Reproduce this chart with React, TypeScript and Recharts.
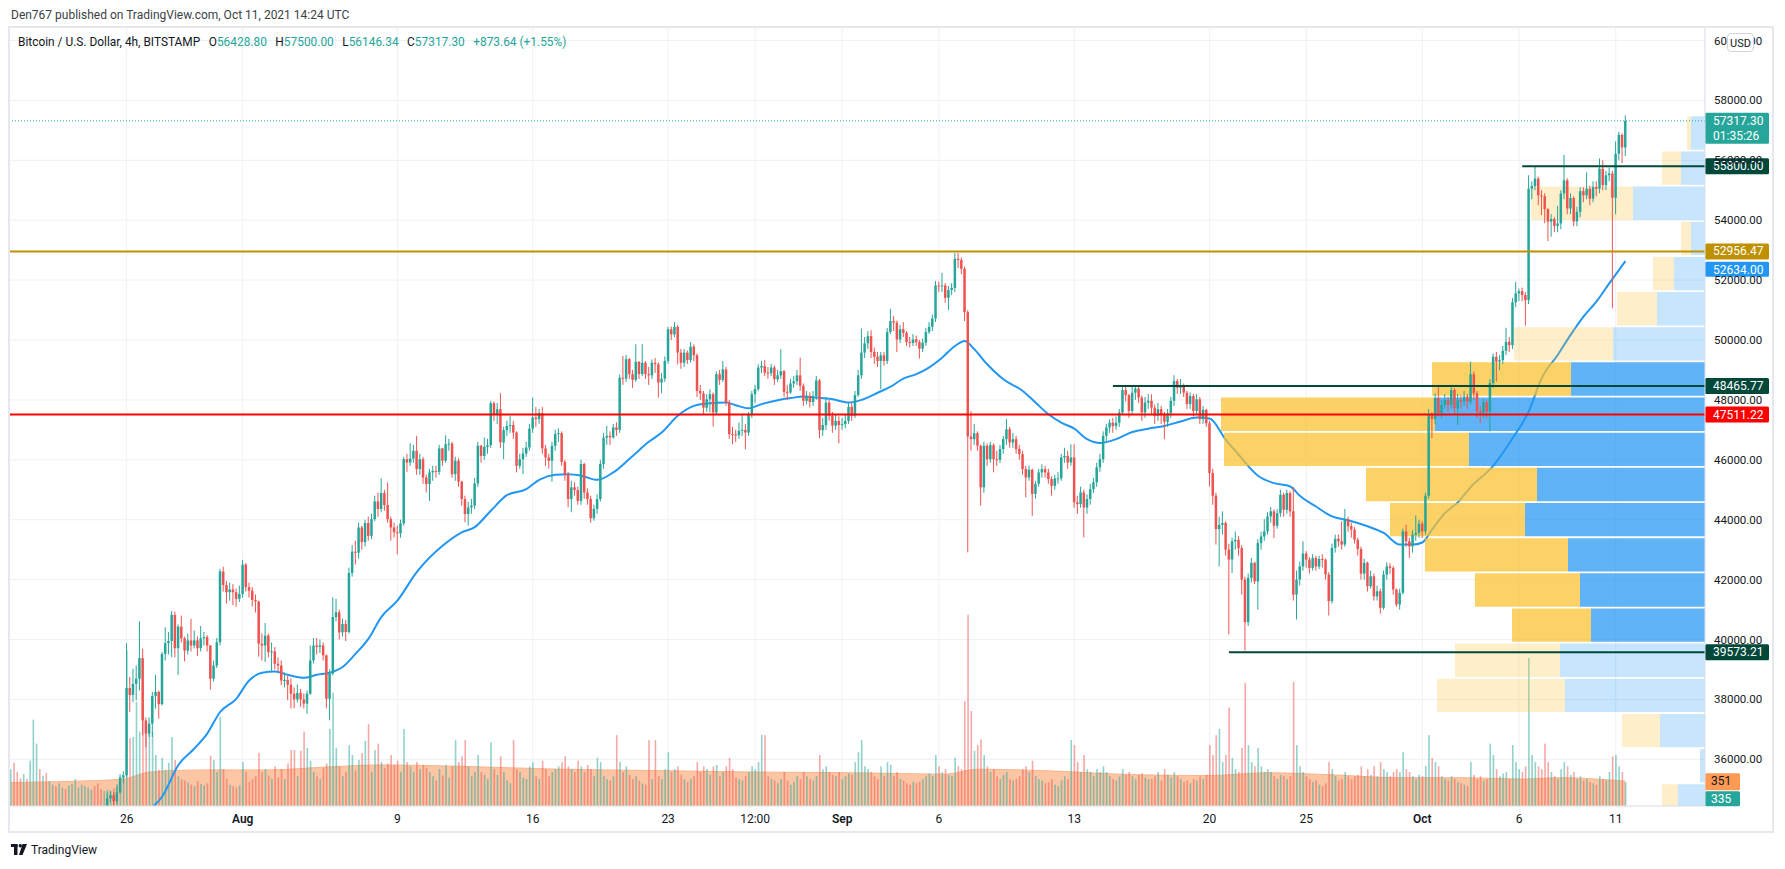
import React from 'react';
import {
  ComposedChart, Bar, Line, Area, XAxis, YAxis, CartesianGrid, ReferenceLine, ReferenceArea,
} from 'recharts';

// ---- 4h candles, Jul 20 2021 00:00 UTC .. Oct 11 2021 12:00 UTC (one row per line = one day) ----
const firstOpen = 30400;
const closes = [
  30500, 30200, 29800, 29600, 29900, 29800,
  30600, 31800, 32200, 32000, 32300, 32100,
  32300, 32500, 32200, 32400, 32600, 32500,
  32700, 32900, 33300, 33400, 33600, 33700,
  33900, 34200, 34000, 33900, 33800, 34300,
  34700, 34800, 34600, 34900, 35400, 35470,
  38380, 38150, 38520, 38690, 39380, 37300,
  36860, 37190, 38110, 38250, 37840, 39520,
  39880, 39950, 40820, 39710, 40430, 40040,
  39630, 39970, 39800, 39970, 39710, 40040,
  40080, 39800, 38690, 39130, 39910, 42270,
  41820, 41580, 41670, 41580, 41360, 41520,
  42500, 41750, 41630, 41320, 41270, 39860,
  39800, 40130, 39580, 39600, 39190, 39130,
  38630, 38650, 38490, 38190, 38000, 38220,
  38000, 37860, 38190, 39300, 39800, 39750,
  39800, 39470, 38020, 38860, 40750, 40910,
  40240, 40520, 40250, 42220, 42930, 42900,
  43740, 43250, 43890, 43460, 44020, 44610,
  44360, 44890, 44490, 44020, 43740, 43580,
  43545, 43880, 46020, 45910, 46040, 46300,
  45690, 46020, 45410, 45190, 45580, 45630,
  45600, 46380, 45970, 46520, 46540, 45520,
  45970, 45270, 44690, 44190, 44410, 44470,
  45210, 46470, 46130, 46430, 46490, 47890,
  47520, 47690, 46580, 46990, 47130, 47160,
  46910, 45800, 46020, 46210, 46410, 47040,
  47410, 47360, 47560, 46380, 46080, 45970,
  46470, 46860, 46890, 45930, 45520, 44690,
  45080, 44990, 44630, 45860, 44910, 44690,
  44050, 44360, 44690, 45860, 46740, 46800,
  46750, 47080, 47000, 48740, 48710, 49360,
  48860, 48670, 49270, 48860, 49240, 48860,
  48820, 49240, 49190, 48580, 48710, 49300,
  50360, 50190, 50440, 49580, 49240, 49580,
  49330, 49780, 49490, 48300, 48220, 47740,
  48020, 48190, 47580, 48860, 48670, 49020,
  47910, 46860, 46850, 46820, 46970, 47000,
  46910, 47520, 48190, 48360, 49080, 49130,
  48910, 48890, 49080, 48690, 48820, 48960,
  48270, 48250, 48550, 48620, 48820, 48470,
  47970, 48130, 47930, 48130, 48650, 46990,
  47160, 47910, 47470, 47140, 47300, 47160,
  47190, 47300, 47770, 47470, 48160, 48820,
  49580, 49890, 50130, 49600, 49440, 49300,
  49490, 49300, 50270, 50630, 50580, 50020,
  50360, 50240, 49930, 49900, 50020, 49930,
  49710, 49910, 50270, 50440, 50720, 51820,
  51800, 51820, 51410, 51670, 51740, 52710,
  52670, 52380, 50930, 46780, 46690, 46890,
  46470, 45080, 46470, 46020, 46490, 46020,
  46000, 46360, 46690, 47020, 46580, 46690,
  46360, 46190, 45690, 45410, 45670, 44860,
  45200, 45580, 45690, 45580, 45360, 45130,
  45380, 45380, 46080, 46130, 45910, 46080,
  44580, 44520, 44910, 44410, 44690, 45020,
  45250, 45750, 46020, 46800, 47080, 47240,
  47130, 47240, 47580, 48330, 48160, 47630,
  48240, 48380, 48080, 47580, 47910, 47970,
  47740, 47470, 47690, 47520, 47270, 47560,
  47970, 48630, 48410, 48470, 48240, 47860,
  48130, 47630, 48020, 47360, 47670, 47220,
  45560, 44800, 43690, 43830, 43890, 43000,
  42670, 43280, 43330, 43050, 42000, 40580,
  42060, 42560, 41940, 43220, 43440, 43610,
  44110, 44280, 43800, 44220, 44830, 44330,
  44890, 44280, 41500, 42000, 42440, 42870,
  42670, 42390, 42720, 42440, 42690, 42670,
  42170, 41280, 43060, 43360, 43280, 43170,
  44000, 43780, 43670, 43330, 43020, 42200,
  42560, 41780, 42110, 41440, 41610, 41060,
  42170, 42440, 42390, 41670, 41170, 41560,
  43610, 43280, 43110, 43500, 43560, 43870,
  43610, 44800, 47500, 47360, 48060, 47560,
  47830, 48000, 47830, 48330, 47720, 48000,
  47940, 48110, 47940, 48860, 48220, 47610,
  47560, 47920, 47610, 48560, 49440, 49280,
  49330, 49640, 49940, 49830, 51260, 51560,
  51630, 51500, 51330, 55050, 55140, 55390,
  54830, 54800, 54370, 53950, 54040, 53810,
  53890, 54890, 55330, 54390, 54740, 53960,
  54280, 54970, 54830, 55050, 54720, 55110,
  55050, 55720, 55170, 55500, 55560, 54750,
  56220, 56850, 56428.8, 57317.3,
];
const highs = [
  31000, 30700, 30300, 29900, 30100, 30100,
  30700, 32000, 32600, 32400, 32500, 32400,
  32500, 32700, 32600, 32500, 32800, 32700,
  32900, 33100, 33500, 33600, 33800, 33900,
  34100, 34300, 34300, 34200, 34100, 34400,
  34900, 34950, 34900, 35100, 35500, 35600,
  39880, 38750, 39020, 39130, 40610, 39690,
  37400, 37400, 38250, 38820, 38300, 39580,
  40410, 40250, 40950, 40930, 40500, 40800,
  40100, 40200, 40690, 40300, 40100, 40450,
  40250, 40150, 39810, 39300, 40050, 42360,
  42430, 41950, 41900, 41850, 41700, 41800,
  42660, 42550, 41900, 41750, 41500, 41300,
  40200, 40550, 40200, 39900, 39750, 39400,
  39300, 38900, 38800, 38700, 38400, 38500,
  38350, 38200, 38300, 39800, 40050, 40050,
  40000, 39900, 39500, 39000, 41410, 41360,
  41000, 40700, 40650, 42400, 43150, 43300,
  43900, 43800, 44000, 44100, 44200, 44800,
  44900, 45380, 45000, 45245, 44100, 43900,
  43800, 44000, 46100, 46200, 46556, 46500,
  46800, 46200, 46100, 45500, 45700, 45800,
  45800, 46500, 46400, 46820, 46700, 46600,
  46100, 46050, 45300, 44800, 44600, 44700,
  45400, 46600, 46500, 46745, 46700, 47967,
  47950, 47900, 48222, 47100, 47300, 47470,
  47300, 46950, 46200, 46400, 46600, 47200,
  48080, 47760, 47700, 47760, 46500, 46200,
  46600, 47000, 47050, 46950, 46000, 45600,
  45300, 45250, 45100, 46000, 45900, 45050,
  44800, 44500, 44850, 46000, 46900, 47130,
  46950, 47200, 47250, 48850, 49470, 49500,
  49400, 49000, 49860, 49300, 49860, 49300,
  49100, 49350, 49400, 49250, 48900, 49450,
  50440, 50450, 50600, 50500, 49700, 49700,
  49650, 49930, 49850, 49550, 48500, 48300,
  48200, 48350, 48250, 48950, 49000, 49300,
  49100, 48000, 47100, 47000, 47240, 47540,
  47200, 47600, 48300, 48500, 49190, 49300,
  49330, 49100, 49200, 49150, 49000, 49690,
  49000, 48500, 48700, 48800, 49000, 49410,
  48550, 48300, 48250, 48300, 48800, 48700,
  47400, 48100, 48000, 47600, 47500, 47450,
  47400, 47500, 47900, 47900, 48300, 49000,
  50380, 50100, 50300, 50330, 49750, 49600,
  49600, 49600, 50400, 51040, 50800, 50650,
  50500, 50600, 50300, 50100, 50200, 50150,
  50000, 50050, 50400, 50600, 50850, 51970,
  51950, 52240, 51900, 51800, 51900, 52910,
  52910, 52750, 52450, 51000, 47630, 47200,
  46950, 46500, 46600, 46550, 46600, 46550,
  46300, 46500, 46800, 47360, 47100, 46900,
  46800, 46500, 46300, 45800, 45800, 45700,
  45300, 45700, 45850, 45800, 45700, 45450,
  45500, 45600, 46200, 46400, 46300, 46520,
  46520, 44800, 45100, 45000, 44850, 45200,
  45400, 45900, 46200, 46950, 47200, 47350,
  47400, 47450, 47700, 48450, 48450, 48200,
  48450, 48500, 48450, 48150, 48100, 48200,
  48190, 47850, 47900, 47800, 47600, 47700,
  48100, 48820, 48700, 48700, 48550, 48300,
  48250, 48200, 48200, 48100, 47800, 47700,
  47300, 45700, 44900, 44100, 44280, 43950,
  43200, 43400, 43610, 43450, 43150, 42100,
  42200, 42720, 42600, 43350, 43600, 44020,
  44250, 44420, 44350, 44350, 45000, 44900,
  45000, 44950, 45090, 42300, 42600, 43280,
  42950, 42750, 42850, 42800, 42800, 42850,
  42700, 42250, 43200, 43500, 43500, 43940,
  44360, 44100, 43900, 43750, 43400, 43100,
  42700, 42600, 42300, 42200, 41800, 41700,
  42300, 42580, 42550, 42450, 41700, 41700,
  43700, 43830, 43400, 43650, 44140, 44000,
  43950, 44900, 47700, 47600, 48220, 48500,
  48000, 48200, 48100, 48500, 48400, 48200,
  48150, 48300, 48200, 49280, 48950, 48300,
  47800, 48050, 48000, 48700, 49550, 49600,
  49500, 49800, 50410, 50100, 51400, 51940,
  51720, 51750, 51600, 55500, 55300, 55780,
  55450, 55000, 54900, 54400, 54200, 54100,
  54480, 55000, 56190, 55400, 54900, 54800,
  54450, 55100, 55100, 55600, 55150, 55300,
  55300, 56060, 56000, 55650, 55750, 55650,
  56630, 56950, 56900, 57500,
];
const lows = [
  30000, 29900, 29400, 29330, 29500, 29600,
  29700, 30500, 31600, 31800, 31900, 31900,
  31900, 32200, 32000, 32100, 32300, 32300,
  32300, 32600, 32800, 33100, 33300, 33500,
  33600, 33800, 33800, 33700, 33600, 33700,
  34200, 34550, 34400, 34500, 34850, 35200,
  35400, 37580, 37910, 37970, 38300, 36800,
  36410, 36750, 36750, 37690, 37360, 37800,
  39300, 39500, 39410, 39410, 38820, 39900,
  39270, 39500, 39600, 39700, 39450, 39600,
  39800, 39600, 38330, 38600, 39050, 39800,
  41600, 41200, 41300, 41150, 41100, 41250,
  41400, 41600, 41400, 41100, 40900, 39430,
  39300, 39250, 39400, 38910, 39000, 38900,
  38470, 38400, 37970, 37700, 37700, 37900,
  37750, 37700, 37520, 38150, 39200, 39500,
  39550, 39300, 37700, 37300, 38800, 40600,
  40000, 40100, 39950, 40200, 42100, 42500,
  42700, 43000, 43100, 43300, 43350, 43950,
  44100, 44250, 44300, 43900, 43300, 43400,
  42845, 43400, 43800, 45600, 45800, 45900,
  45500, 45500, 45200, 44910, 44630, 45300,
  45400, 45500, 45800, 45900, 46300, 45400,
  45300, 45100, 44470, 43910, 43800, 44200,
  44350, 45100, 45900, 46000, 46200, 46400,
  47300, 47200, 46400, 46020, 46800, 46900,
  46700, 45580, 45700, 45520, 46100, 46300,
  46900, 47100, 47200, 46200, 45800, 45700,
  45270, 46300, 46600, 45800, 45300, 44410,
  44250, 44800, 44500, 44500, 44700, 44500,
  43900, 43970, 44200, 44600, 45700, 46500,
  46500, 46700, 46800, 46900, 48500, 48600,
  48700, 48400, 48600, 48700, 48800, 48700,
  48500, 48700, 48900, 48080, 48220, 48600,
  49200, 50000, 50100, 49190, 49040, 49100,
  49200, 49250, 49300, 48100, 48000, 47500,
  47600, 47580, 47110, 47500, 48500, 48600,
  47800, 46700, 46520, 46600, 46700, 46800,
  46350, 46800, 47400, 47900, 48300, 48900,
  48800, 48700, 48800, 48500, 48600, 48700,
  48100, 48000, 48200, 48400, 48500, 48300,
  47800, 47850, 47750, 47800, 48000, 46720,
  46800, 47000, 47300, 46900, 47000, 46550,
  47000, 47050, 47200, 47300, 47400, 48100,
  48700, 49400, 49700, 49400, 49200, 49100,
  48360, 49150, 49200, 50200, 50300, 49600,
  49900, 50100, 49800, 49750, 49800, 49800,
  49380, 49600, 49800, 50200, 50300, 50600,
  51600, 51600, 51240, 51000, 51500, 51600,
  52400, 52200, 50630, 42910, 46300, 46500,
  46300, 44470, 44900, 45800, 45900, 45580,
  45800, 45900, 46200, 46500, 46400, 46400,
  46200, 46000, 45500, 44750, 45300, 44130,
  44700, 45100, 45400, 45400, 45200, 44800,
  45000, 45200, 45300, 45900, 45700, 45800,
  44400, 44190, 44400, 43410, 44200, 44500,
  44900, 45100, 45600, 45900, 46600, 46900,
  46900, 47000, 47100, 47500, 47950, 47400,
  47500, 48000, 47900, 47300, 47400, 47700,
  47500, 47200, 47300, 47200, 46690, 47100,
  47400, 47800, 48200, 48200, 48100, 47700,
  47700, 47450, 47500, 47200, 47200, 47100,
  45110, 44500, 43170, 42440, 43500, 42800,
  40170, 42220, 43000, 42800, 41500, 39630,
  40450, 41900, 41850, 41000, 43000, 43300,
  43500, 43900, 43390, 43700, 44100, 44100,
  44200, 44100, 41300, 40670, 41800, 42300,
  42400, 42200, 42300, 42300, 42350, 42400,
  42000, 40800, 41200, 42900, 43100, 43000,
  43100, 43600, 43400, 43200, 42800, 42000,
  42000, 41600, 41700, 41300, 41300, 40870,
  41000, 42000, 42200, 41500, 41090, 41000,
  41500, 43100, 42720, 42900, 43300, 43400,
  43400, 43500, 44700, 46720, 47200, 47450,
  47400, 47700, 47600, 47700, 47500, 47170,
  47700, 47800, 47700, 47850, 48000, 47400,
  47220, 47400, 47400, 46940, 48400, 48610,
  49000, 49200, 49500, 49600, 49700, 51100,
  51300, 51300, 50480, 51200, 54700, 55000,
  54500, 54170, 53900, 53300, 53450, 53600,
  53600, 53700, 54700, 54200, 54200, 53800,
  53800, 54100, 54600, 54700, 54500, 54600,
  54800, 54900, 55000, 55000, 55300, 51060,
  54200, 56000, 55900, 56146.34,
];
const volumes = [
  520, 610, 480, 390, 450, 380,
  640, 1220, 880, 520, 430, 470,
  350, 300, 280, 320, 260, 240,
  290, 310, 380, 260, 300, 280,
  260, 230, 280, 320, 240, 210,
  230, 200, 250, 310, 290, 420,
  2200, 960, 975, 1470, 1050, 1700,
  1170, 1050, 1050, 720, 510, 680,
  510, 610, 975, 650, 420, 380,
  360, 330, 300, 280, 350, 310,
  290, 320, 710, 650, 480, 1260,
  520, 380, 300, 280, 260, 290,
  620, 480, 340, 380, 420, 750,
  480, 520, 430, 380, 560, 400,
  520, 380, 600, 790, 790, 420,
  780, 1050, 820, 640, 480, 420,
  380, 540, 600, 1090, 1600, 820,
  560, 420, 480, 860, 720, 500,
  650, 750, 920, 1160, 480, 790,
  880, 620, 540, 600, 720, 580,
  640, 480, 1090, 620, 560, 480,
  620, 520, 580, 540, 480, 420,
  360, 520, 430, 580, 400, 560,
  930, 620, 700, 930, 560, 420,
  480, 720, 480, 440, 380, 900,
  520, 440, 700, 480, 360, 320,
  930, 520, 480, 400, 380, 560,
  620, 420, 380, 640, 520, 420,
  480, 520, 560, 620, 700, 560,
  520, 480, 640, 560, 480, 580,
  520, 420, 680, 620, 420, 380,
  360, 420, 1000, 620, 480, 560,
  440, 380, 420, 360, 320, 300,
  930, 380, 930, 420, 380, 520,
  760, 480, 520, 560, 440, 380,
  340, 380, 420, 620, 480, 560,
  520, 440, 560, 580, 420, 480,
  560, 680, 520, 400, 380, 360,
  420, 480, 560, 520, 620, 1000,
  1000, 420, 380, 360, 320, 380,
  480, 360, 300, 340, 420, 380,
  480, 420, 380, 360, 420, 720,
  520, 560, 480, 440, 420, 480,
  380, 420, 460, 440, 620, 760,
  930, 560, 520, 480, 420, 380,
  560, 420, 620, 580, 420, 480,
  380, 360, 320, 300, 340, 320,
  340, 380, 420, 460, 420, 720,
  560, 480, 520, 440, 420, 680,
  560, 520, 1480, 2700, 1340, 780,
  860, 940, 720, 560, 480, 520,
  420, 380, 440, 480, 380, 360,
  380, 420, 520, 560, 480, 640,
  420, 380, 360, 320, 340, 380,
  300, 280, 360, 420, 380, 930,
  860, 620, 480, 720, 520, 480,
  420, 520, 480, 560, 480, 420,
  380, 360, 420, 520, 440, 480,
  420, 380, 440, 460, 400, 380,
  380, 420, 480, 360, 520, 440,
  400, 480, 420, 380, 340, 360,
  320, 380, 360, 420, 380, 440,
  860, 720, 1000, 1090, 620, 720,
  1390, 680, 520, 480, 820, 1740,
  860, 620, 560, 820, 560, 480,
  520, 480, 420, 380, 440, 420,
  380, 420, 1750, 860, 560, 480,
  420, 380, 340, 360, 300, 280,
  320, 620, 520, 420, 360, 380,
  480, 420, 380, 420, 440, 560,
  420, 520, 440, 560, 420, 620,
  520, 480, 420, 480, 520, 480,
  760, 520, 480, 420, 380, 440,
  420, 560, 1000, 680, 620, 560,
  420, 380, 360, 420, 380, 340,
  320, 300, 280, 620, 440, 380,
  420, 360, 380, 880, 720, 520,
  420, 460, 480, 380, 860, 620,
  520, 480, 560, 2090, 720, 620,
  560, 520, 880, 620, 480, 420,
  380, 520, 620, 560, 440, 480,
  380, 420, 360, 380, 340, 320,
  300, 420, 380, 360, 480, 700,
  720, 560, 480, 335,
];

// EMA (blue) read at selected candles
const emaIdx = [44, 47, 52, 57, 61, 65, 70, 74, 78, 82, 86, 91, 95, 99, 103, 107, 111, 115, 120, 126, 134, 140, 144, 149, 154, 160, 164, 169, 173, 177, 182, 187, 193, 198, 202, 207, 212, 217, 222, 225, 229, 233, 238, 242, 246, 250, 255, 260, 264, 269, 273, 277, 281, 284, 289, 293, 296, 299, 303, 308, 314, 318, 322, 326, 330, 334, 338, 343, 348, 353, 358, 363, 368, 372, 377, 381, 387, 392, 397, 400, 405, 410, 415, 421, 426, 431, 435, 438, 441, 445, 449, 453, 460, 466, 471, 475, 480, 484, 488, 492, 496, 501];
const emaVal = [34400, 34750, 35800, 36360, 36860, 37580, 38020, 38630, 38890, 38930, 38820, 38720, 38820, 38890, 39080, 39520, 40020, 40750, 41300, 42250, 43130, 43580, 43750, 44300, 44820, 45020, 45330, 45500, 45520, 45470, 45330, 45580, 46130, 46600, 46910, 47470, 47800, 47890, 47910, 47820, 47720, 47860, 47990, 48060, 48110, 48080, 48020, 47910, 48000, 48240, 48440, 48710, 48860, 49020, 49410, 49800, 49970, 49690, 49190, 48690, 48300, 47910, 47520, 47240, 47040, 46690, 46560, 46690, 46930, 47040, 47130, 47280, 47410, 47380, 46670, 46170, 45470, 45220, 45110, 44800, 44440, 44110, 43980, 43780, 43560, 43170, 43170, 43240, 43670, 44220, 44580, 45090, 45800, 46720, 47610, 48720, 49500, 50170, 50780, 51280, 51890, 52634];

// Volume moving average (orange area)
const vmaIdx = [0, 20, 35, 42, 50, 62, 80, 98, 115, 140, 170, 200, 230, 260, 290, 300, 320, 350, 372, 390, 410, 430, 450, 470, 480, 501];
const vmaVal = [330, 350, 380, 470, 500, 510, 510, 550, 580, 560, 520, 500, 480, 470, 450, 520, 500, 440, 430, 470, 440, 400, 400, 380, 400, 351];

// Volume profile (visible range), rows from top: low edge, up volume, down volume, value-area flag
const VP_ROW = 1173.8;
const vpLow = [56326, 55152, 53979, 52805, 51631, 50457, 49283, 48110, 46936, 45762, 44588, 43415, 42241, 41067, 39893, 38719, 37546, 36372, 35198, 34024];
const vpUp = [1400, 2400, 7200, 1400, 3100, 4800, 9200, 13400, 27000, 23600, 16800, 18000, 13700, 12500, 11400, 14500, 14000, 4500, 500, 2700];
const vpDown = [400, 1900, 10200, 1000, 2100, 4000, 9900, 13900, 21400, 24500, 17100, 13500, 14300, 10500, 7900, 10500, 12800, 3800, 0, 1600];
const vpInValueArea = [0, 0, 0, 0, 0, 0, 0, 1, 1, 1, 1, 1, 1, 1, 1, 0, 0, 0, 0, 0];
const VP_FULL = 169600; // profile volume that would span the whole pane

// Axis ticks
const tickIdx = [36, 72, 120, 162, 204, 231, 258, 288, 330, 372, 402, 438, 468, 498];
const tickLabels = ['26', 'Aug', '9', '16', '23', '12:00', 'Sep', '6', '13', '20', '25', 'Oct', '6', '11'];
const priceTicks = [36000, 38000, 40000, 42000, 44000, 46000, 48000, 50000, 52000, 54000, 56000, 58000, 60000];

// Levels
const lastPrice = 57317.3;
const countdown = '01:35:26';
const resistance = 55800;
const resistanceStart = 469;
const goldLevel = 52956.47;
const emaLast = 52634.0;
const rangeHigh = 48465.77;
const rangeHighStart = 342;
const redLevel = 47511.22;
const rangeLow = 39573.21;
const rangeLowStart = 378;
const volMA = 351;
const volLast = 335;

const X_MIN = -0.5;
const X_MAX = 525.7;
const P_MIN = 34441;
const P_MAX = 60451;
const vpToX = (v: number) => X_MAX - (v * (X_MAX - X_MIN)) / VP_FULL;

const rows = closes.map((c, i) => ({
  i,
  open: i === 0 ? firstOpen : closes[i - 1],
  close: c,
  high: highs[i],
  low: lows[i],
  vol: volumes[i],
  ema: null as number | null,
  vma: null as number | null,
}));
emaIdx.forEach((ix, k) => { rows[ix].ema = emaVal[k]; });
vmaIdx.forEach((ix, k) => { rows[ix].vma = vmaVal[k]; });

const UP = '#26a69a';
const DOWN = '#ef5350';
const DARKGREEN = '#00483a';
const FONT = 'Roboto, sans-serif';

const CandleShape = (props: any) => {
  const { x, y, width, height, payload } = props;
  if (!payload || payload.high == null || payload.high < P_MIN) return null;
  const hi = payload.high;
  const lo = Math.max(payload.low, P_MIN);
  const top = Math.min(y, y + height);
  const h = Math.abs(height);
  const k = hi > lo ? h / (hi - lo) : 0;
  const yOf = (p: number) => top + (hi - p) * k;
  const up = payload.close >= payload.open;
  const color = up ? UP : DOWN;
  const cx = x + width / 2;
  const bTop = yOf(Math.max(payload.open, payload.close));
  const bBot = yOf(Math.min(payload.open, payload.close));
  return (
    <g>
      <line x1={cx} x2={cx} y1={Math.min(top, bTop)} y2={Math.max(top + h, bBot)} stroke={color} strokeWidth={1} />
      <rect x={cx - 1.25} y={bTop} width={2.5} height={Math.max(1, bBot - bTop)} fill={color} />
    </g>
  );
};

const VolShape = (props: any) => {
  const { x, y, width, height, payload } = props;
  if (!payload || !height) return null;
  const up = payload.close >= payload.open;
  return <rect x={x} y={y} width={width} height={height} fill={up ? 'rgba(38,166,154,0.5)' : 'rgba(239,83,80,0.5)'} />;
};

const Tag = (props: any) => {
  const { viewBox, text, sub, bg, fg = '#ffffff', w = 64, dy = -8, h = 16 } = props;
  if (!viewBox) return null;
  let right: number;
  let yy: number;
  if (viewBox.x1 != null) {
    right = Math.max(viewBox.x1, viewBox.x2);
    yy = viewBox.y1;
  } else {
    right = viewBox.x + viewBox.width;
    yy = viewBox.y;
  }
  const top = yy + dy;
  const hh = sub ? 31 : h;
  return (
    <g>
      <rect x={right} y={top} width={w} height={hh} fill={bg} rx={1.5} />
      <text x={right + (w > 40 ? 8 : 6)} y={top + 12} fill={fg} fontSize={12} fontFamily={FONT}>{text}</text>
      {sub ? <text x={right + 8} y={top + 27} fill={fg} fontSize={12} fontFamily={FONT}>{sub}</text> : null}
    </g>
  );
};

const XTick = (props: any) => {
  const { x, y, payload } = props;
  const idx = tickIdx.indexOf(payload.value);
  const label = idx >= 0 ? tickLabels[idx] : '';
  const bold = label === 'Aug' || label === 'Sep' || label === 'Oct';
  return (
    <text x={x} y={y + 9} textAnchor="middle" fontSize={12} fontFamily={FONT} fill="#131722" fontWeight={bold ? 600 : 400}>
      {label}
    </text>
  );
};

const Logo = () => (
  <svg width={17} height={12} viewBox="0 0 17 12" style={{ display: 'block' }}>
    <rect x={0} y={0} width={6.5} height={3} fill="#131722" />
    <rect x={3} y={0} width={3.5} height={11} fill="#131722" />
    <circle cx={9.3} cy={1.7} r={1.7} fill="#131722" />
    <polygon points="11.5,0 16,0 11.5,11 8,11" fill="#131722" />
  </svg>
);

export default function App() {
  const fmt = (v: number) => v.toFixed(2);
  return (
    <div style={{ position: 'relative', width: 1769, height: 853, fontFamily: FONT, color: '#131722', background: '#ffffff' }}>
      <div style={{ position: 'absolute', left: 3, top: 0, fontSize: 12, lineHeight: '14px', color: '#3c3f47', whiteSpace: 'nowrap' }}>
        Den767 published on TradingView.com, Oct 11, 2021 14:24 UTC
      </div>
      <div style={{ position: 'absolute', left: 0, top: 18 }}>
        <ComposedChart width={1766} height={807} data={rows} margin={{ top: 1, right: 0, bottom: 0, left: 1 }}>
          <XAxis xAxisId="x" dataKey="i" type="number" domain={[X_MIN, X_MAX]} allowDataOverflow ticks={tickIdx}
            height={27} axisLine={{ stroke: '#e0e3eb' }} tickLine={false} tick={<XTick />} interval={0} />
          <XAxis xAxisId="x2" dataKey="i" type="number" domain={[X_MIN, X_MAX]} allowDataOverflow hide orientation="top" />
          <YAxis yAxisId="price" orientation="right" type="number" domain={[P_MIN, P_MAX]} allowDataOverflow ticks={priceTicks}
            width={69} axisLine={{ stroke: '#e0e3eb' }} tickLine={false} tickMargin={3} interval={0}
            tickFormatter={fmt} tick={{ fontSize: 11.5, fill: '#131722', fontFamily: FONT }} />
          <YAxis yAxisId="vol" type="number" domain={[0, 11000]} allowDataOverflow hide />
          <CartesianGrid xAxisId="x" yAxisId="price" stroke="#eef1f6" strokeWidth={1} />
          <Area xAxisId="x" yAxisId="vol" dataKey="vma" type="monotone" connectNulls fill="#f98c49" fillOpacity={0.5}
            stroke="#fbb58b" strokeWidth={1} isAnimationActive={false} dot={false} activeDot={false} />
          <Bar xAxisId="x2" yAxisId="vol" dataKey="vol" barSize={1.6} shape={<VolShape />} isAnimationActive={false} />
          <Line xAxisId="x" yAxisId="price" dataKey="ema" type="monotone" connectNulls stroke="#2196f3" strokeWidth={2}
            dot={false} activeDot={false} isAnimationActive={false} />
          {vpLow.map((lo, k) => {
            const va = vpInValueArea[k] === 1;
            const y1 = lo + 30;
            const y2 = lo + VP_ROW - 30;
            return (
              <React.Fragment key={'vp' + k}>
                <ReferenceArea xAxisId="x" yAxisId="price" x1={vpToX(vpUp[k])} x2={X_MAX} y1={y1} y2={y2}
                  fill={va ? 'rgba(33,150,243,0.72)' : 'rgba(33,150,243,0.25)'} fillOpacity={1} stroke="none" ifOverflow="hidden" zIndex={450} />
                {vpDown[k] > 0 ? (
                  <ReferenceArea xAxisId="x" yAxisId="price" x1={vpToX(vpUp[k] + vpDown[k])} x2={vpToX(vpUp[k])} y1={y1} y2={y2}
                    fill={va ? 'rgba(251,192,45,0.72)' : 'rgba(251,192,45,0.25)'} fillOpacity={1} stroke="none" ifOverflow="hidden" zIndex={450} />
                ) : null}
              </React.Fragment>
            );
          })}
          <Bar xAxisId="x" yAxisId="price" dataKey={(d: any) => (d.high == null || d.high < P_MIN ? null : [Math.max(d.low, P_MIN), d.high])}
            barSize={3} shape={<CandleShape />} isAnimationActive={false} zIndex={460} />
          <ReferenceLine xAxisId="x" yAxisId="price" y={lastPrice} stroke={UP} strokeDasharray="1 2" strokeWidth={1} zIndex={470}
            label={<Tag text={fmt(lastPrice)} sub={countdown} bg={UP} />} />
          <ReferenceLine xAxisId="x" yAxisId="price" y={goldLevel} stroke="#bf9000" strokeWidth={2} zIndex={470}
            label={<Tag text={fmt(goldLevel)} bg="#bf9000" />} />
          <ReferenceLine xAxisId="x" yAxisId="price" y={redLevel} stroke="#ff0000" strokeWidth={2} zIndex={470}
            label={<Tag text={fmt(redLevel)} bg="#ff0000" />} />
          <ReferenceLine xAxisId="x" yAxisId="price" segment={[{ x: resistanceStart, y: resistance }, { x: X_MAX, y: resistance }]} zIndex={470}
            stroke={DARKGREEN} strokeWidth={2} label={<Tag text={fmt(resistance)} bg={DARKGREEN} />} />
          <ReferenceLine xAxisId="x" yAxisId="price" segment={[{ x: rangeHighStart, y: rangeHigh }, { x: X_MAX, y: rangeHigh }]} zIndex={470}
            stroke={DARKGREEN} strokeWidth={2} label={<Tag text={fmt(rangeHigh)} bg={DARKGREEN} />} />
          <ReferenceLine xAxisId="x" yAxisId="price" segment={[{ x: rangeLowStart, y: rangeLow }, { x: X_MAX, y: rangeLow }]} zIndex={470}
            stroke={DARKGREEN} strokeWidth={2} label={<Tag text={fmt(rangeLow)} bg={DARKGREEN} />} />
          <ReferenceLine xAxisId="x" yAxisId="price" y={emaLast} stroke="#2196f3" strokeOpacity={0}
            label={<Tag text={fmt(emaLast)} bg="#2196f3" dy={0.7} h={15} />} />
          <ReferenceLine xAxisId="x" yAxisId="vol" y={volMA} stroke="#ff9850" strokeOpacity={0}
            label={<Tag text={String(volMA)} bg="#ff9a55" fg="#131722" w={35} dy={-8} h={17} />} />
          <ReferenceLine xAxisId="x" yAxisId="vol" y={volLast} stroke={UP} strokeOpacity={0}
            label={<Tag text={String(volLast)} bg={UP} w={35} dy={9} h={15} />} />
        </ComposedChart>
      </div>
      <div style={{ position: 'absolute', left: 10, top: 27, fontSize: 11.9, lineHeight: '14px', whiteSpace: 'nowrap', color: '#131722' }}>
        <span>Bitcoin / U.S. Dollar, 4h, BITSTAMP</span>
        <span style={{ marginLeft: 8.5 }}>O<span style={{ color: UP }}>56428.80</span></span>
        <span style={{ marginLeft: 8.5 }}>H<span style={{ color: UP }}>57500.00</span></span>
        <span style={{ marginLeft: 8.5 }}>L<span style={{ color: UP }}>56146.34</span></span>
        <span style={{ marginLeft: 8.5 }}>C<span style={{ color: UP }}>57317.30</span></span>
        <span style={{ marginLeft: 8.5, color: UP }}>+873.64 (+1.55%)</span>
      </div>
      <div style={{ position: 'absolute', left: 0, top: 18, width: 1766, height: 807, border: '2px solid #e6e8ee', boxSizing: 'border-box', pointerEvents: 'none' }} />
      <div style={{ position: 'absolute', left: 1719, top: 25, width: 27, height: 19, border: '1px solid #d1d4dc', borderRadius: 4, background: '#ffffff',
        fontSize: 11, lineHeight: '19px', textAlign: 'center', color: '#131722', boxSizing: 'border-box' }}>USD</div>
      <div style={{ position: 'absolute', left: 3, top: 835, display: 'flex', alignItems: 'center', gap: 3 }}>
        <Logo />
        <span style={{ fontSize: 12, color: '#131722' }}>TradingView</span>
      </div>
    </div>
  );
}
